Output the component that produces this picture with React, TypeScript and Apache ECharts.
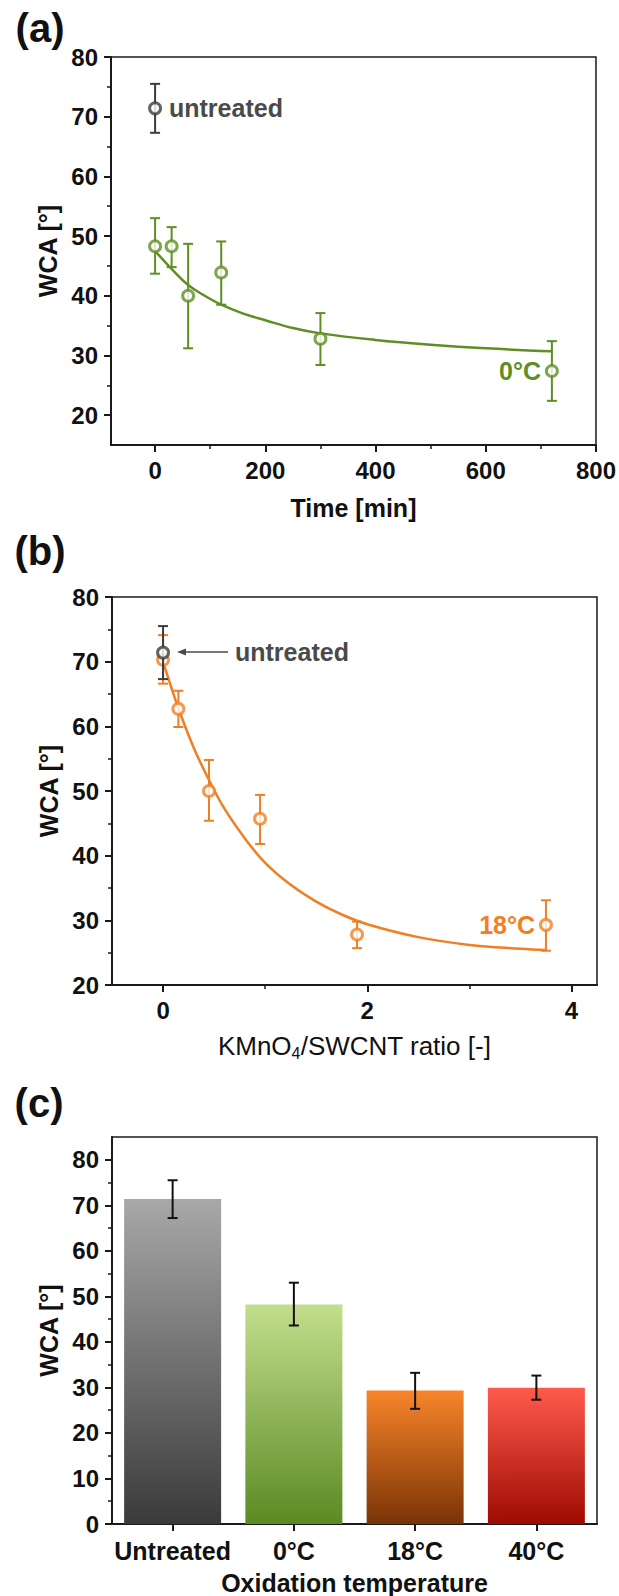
import React, { useEffect, useRef } from "react";
import * as echarts from "echarts";

// ---------- Panel (a): WCA vs time at 0°C ----------
const TIME_MIN = [0, 30, 60, 120, 300, 720];
const WCA_0C = [48.3, 48.3, 40.0, 43.9, 32.8, 27.4];
const WCA_0C_LOW = [43.7, 44.8, 31.2, 38.5, 28.4, 22.4];
const WCA_0C_HIGH = [53.0, 51.5, 48.7, 49.1, 37.1, 32.4];
const FIT_0C_X = [0, 30, 60, 90, 120, 160, 200, 250, 300, 400, 500, 600, 720];
const FIT_0C_Y = [47.5, 44.5, 41.8, 40.0, 38.5, 37.0, 35.9, 34.6, 33.7, 32.6, 31.8, 31.2, 30.7];
const UNTREATED_WCA = [71.4];
const UNTREATED_LOW = [67.3];
const UNTREATED_HIGH = [75.5];
const A_X_TICKS = [0, 200, 400, 600, 800];
const A_X_MINOR = [100, 300, 500, 700];
const A_Y_TICKS = [20, 30, 40, 50, 60, 70, 80];
const A_Y_MINOR = [25, 35, 45, 55, 65, 75];

// ---------- Panel (b): WCA vs KMnO4/SWCNT ratio at 18°C ----------
const RATIO = [0, 0.15, 0.45, 0.95, 1.9, 3.75];
const WCA_18C = [70.3, 62.7, 50.0, 45.7, 27.8, 29.3];
const WCA_18C_LOW = [66.6, 59.9, 45.4, 41.8, 25.7, 25.3];
const WCA_18C_HIGH = [74.1, 65.5, 54.8, 49.4, 29.8, 33.1];
const FIT_18C_X = [0, 0.15, 0.3, 0.45, 0.6, 0.8, 1.0, 1.25, 1.5, 1.75, 2.0, 2.5, 3.0, 3.5, 3.75];
const FIT_18C_Y = [70.0, 62.8, 56.7, 51.7, 47.3, 42.7, 38.9, 35.5, 32.9, 30.9, 29.4, 27.4, 26.2, 25.6, 25.4];
const B_X_TICKS = [0, 2, 4];
const B_X_MINOR = [1, 3];
const B_Y_TICKS = [20, 30, 40, 50, 60, 70, 80];
const B_Y_MINOR = [25, 35, 45, 55, 65, 75];

// ---------- Panel (c): WCA vs oxidation temperature ----------
const CATEGORIES = ["Untreated", "0°C", "18°C", "40°C"];
const BAR_WCA = [71.4, 48.2, 29.3, 29.9];
const BAR_LOW = [67.2, 43.6, 25.3, 27.3];
const BAR_HIGH = [75.5, 53.0, 33.2, 32.6];
const C_Y_TICKS = [0, 10, 20, 30, 40, 50, 60, 70, 80];
const C_Y_MINOR = [5, 15, 25, 35, 45, 55, 65, 75];

// ---------- styles ----------
const FONT = "'Liberation Sans', Arial, Helvetica, sans-serif";
const AXIS = "#1a1a1a";
const GREEN = "#5f8e23";
const ORANGE = "#f07f24";
const GREY = "#3c3c3c";
const TEXT_GREY = "#4a4a4a";
const BAR_TOP = ["#a8a8a8", "#c3de8c", "#f8852a", "#ff5a4c"];
const BAR_BOTTOM = ["#3a3a3a", "#5b8a23", "#7a3306", "#9e0b02"];

function errRender(color: string, cap: number) {
  return (params: any, api: any) => {
    const x = api.value(0);
    const lo = api.value(1);
    const hi = api.value(2);
    const p1 = api.coord([x, hi]);
    const p2 = api.coord([x, lo]);
    const st = { stroke: color, lineWidth: 2 };
    return {
      type: "group",
      children: [
        { type: "line", shape: { x1: p1[0], y1: p1[1], x2: p2[0], y2: p2[1] }, style: st },
        { type: "line", shape: { x1: p1[0] - cap, y1: p1[1], x2: p1[0] + cap, y2: p1[1] }, style: st },
        { type: "line", shape: { x1: p2[0] - cap, y1: p2[1], x2: p2[0] + cap, y2: p2[1] }, style: st },
      ],
    };
  };
}

const tickLabel = { fontFamily: FONT, fontWeight: "bold" as const, fontSize: 24, color: "#111" };
const nameStyle = { fontFamily: FONT, fontWeight: "bold" as const, fontSize: 25, color: "#111" };

function mainValueAxis(grid: number, min: number, max: number, ticks: number[], pos: string, extra: any = {}) {
  return {
    type: "value",
    gridIndex: grid,
    min,
    max,
    position: pos,
    offset: 0,
    axisLine: { show: true, onZero: false, lineStyle: { color: AXIS, width: 2 } },
    axisTick: { show: true, inside: false, length: 7, customValues: ticks, lineStyle: { color: AXIS, width: 2 } },
    axisLabel: { show: true, customValues: ticks, margin: 13, ...tickLabel },
    splitLine: { show: false },
    ...extra,
  };
}

function minorAxis(grid: number, min: number, max: number, ticks: number[], pos: string) {
  return {
    type: "value",
    gridIndex: grid,
    min,
    max,
    position: pos,
    offset: 0,
    axisLine: { show: false, onZero: false },
    axisTick: { show: true, inside: false, length: 4, customValues: ticks, lineStyle: { color: AXIS, width: 1.5 } },
    axisLabel: { show: false },
    splitLine: { show: false },
  };
}

export default function App() {
  const ref = useRef<HTMLDivElement>(null);

  useEffect(() => {
    if (!ref.current) return;
    const chart = echarts.init(ref.current, undefined, { renderer: "svg" });

    const gridStyle = { show: true, borderColor: AXIS, borderWidth: 1.5, backgroundColor: "transparent", containLabel: false };

    const option: any = {
      animation: false,
      backgroundColor: "#ffffff",
      grid: [
        { ...gridStyle, left: 111, top: 57, width: 486, height: 388 },
        { ...gridStyle, left: 112, top: 597, width: 485, height: 388 },
        { ...gridStyle, left: 112, top: 1137, width: 485, height: 389 },
      ],
      xAxis: [
        mainValueAxis(0, -80, 800, A_X_TICKS, "bottom", {
          name: "Time [min]",
          nameLocation: "middle",
          nameGap: 50,
          nameTextStyle: nameStyle,
        }),
        minorAxis(0, -80, 800, A_X_MINOR, "bottom"),
        mainValueAxis(1, -0.5, 4.25, B_X_TICKS, "bottom", {
          name: "{a|KMnO}{s|4}{a|/SWCNT ratio [-]}",
          nameLocation: "middle",
          nameGap: 46,
          nameTextStyle: {
            rich: {
              a: { fontFamily: FONT, fontSize: 26, color: "#111", lineHeight: 30 },
              s: { fontFamily: FONT, fontSize: 16, color: "#111", verticalAlign: "bottom" },
            },
          },
        }),
        minorAxis(1, -0.5, 4.25, B_X_MINOR, "bottom"),
        {
          type: "category",
          gridIndex: 2,
          data: CATEGORIES,
          position: "bottom",
          boundaryGap: true,
          axisLine: { show: true, lineStyle: { color: AXIS, width: 2 } },
          axisTick: { show: true, alignWithLabel: true, inside: false, length: 7, lineStyle: { color: AXIS, width: 2 } },
          axisLabel: { margin: 14, interval: 0, hideOverlap: false, ...tickLabel, fontSize: 25 },
          splitLine: { show: false },
          name: "Oxidation temperature",
          nameLocation: "middle",
          nameGap: 46,
          nameTextStyle: nameStyle,
        },
      ],
      yAxis: [
        mainValueAxis(0, 15, 80, A_Y_TICKS, "left", {
          name: "WCA [°]",
          nameLocation: "middle",
          nameGap: 45,
          nameTextStyle: nameStyle,
        }),
        minorAxis(0, 15, 80, A_Y_MINOR, "left"),
        mainValueAxis(1, 20, 80, B_Y_TICKS, "left", {
          name: "WCA [°]",
          nameLocation: "middle",
          nameGap: 45,
          nameTextStyle: nameStyle,
        }),
        minorAxis(1, 20, 80, B_Y_MINOR, "left"),
        mainValueAxis(2, 0, 85, C_Y_TICKS, "left", {
          name: "WCA [°]",
          nameLocation: "middle",
          nameGap: 45,
          nameTextStyle: nameStyle,
        }),
        minorAxis(2, 0, 85, C_Y_MINOR, "left"),
      ],
      series: [
        // ---- panel (a)
        {
          type: "custom",
          xAxisIndex: 0,
          yAxisIndex: 0,
          renderItem: errRender(GREEN, 5),
          encode: { x: 0, y: [1, 2] },
          data: TIME_MIN.map((x, i) => [x, WCA_0C_LOW[i], WCA_0C_HIGH[i]]),
          z: 2,
        },
        {
          type: "line",
          xAxisIndex: 0,
          yAxisIndex: 0,
          smooth: 0.4,
          symbol: "none",
          lineStyle: { color: GREEN, width: 2.5 },
          data: FIT_0C_X.map((x, i) => [x, FIT_0C_Y[i]]),
          z: 3,
        },
        {
          type: "scatter",
          xAxisIndex: 0,
          yAxisIndex: 0,
          symbol: "circle",
          symbolSize: 11,
          itemStyle: { color: "#ffffff", borderColor: GREEN, borderWidth: 3 },
          data: TIME_MIN.map((x, i) => [x, WCA_0C[i]]),
          z: 4,
        },
        {
          type: "custom",
          xAxisIndex: 0,
          yAxisIndex: 0,
          renderItem: errRender(GREY, 5),
          encode: { x: 0, y: [1, 2] },
          data: UNTREATED_WCA.map((v, i) => [0, UNTREATED_LOW[i], UNTREATED_HIGH[i]]),
          z: 5,
        },
        {
          type: "scatter",
          xAxisIndex: 0,
          yAxisIndex: 0,
          symbol: "circle",
          symbolSize: 11,
          itemStyle: { color: "#ffffff", borderColor: GREY, borderWidth: 3 },
          data: UNTREATED_WCA.map((v) => [0, v]),
          z: 6,
        },
        // ---- panel (b)
        {
          type: "custom",
          xAxisIndex: 2,
          yAxisIndex: 2,
          renderItem: errRender(ORANGE, 5),
          encode: { x: 0, y: [1, 2] },
          data: RATIO.map((x, i) => [x, WCA_18C_LOW[i], WCA_18C_HIGH[i]]),
          z: 2,
        },
        {
          type: "line",
          xAxisIndex: 2,
          yAxisIndex: 2,
          smooth: 0.4,
          symbol: "none",
          lineStyle: { color: ORANGE, width: 2.5 },
          data: FIT_18C_X.map((x, i) => [x, FIT_18C_Y[i]]),
          z: 3,
        },
        {
          type: "scatter",
          xAxisIndex: 2,
          yAxisIndex: 2,
          symbol: "circle",
          symbolSize: 11,
          itemStyle: { color: "#ffffff", borderColor: ORANGE, borderWidth: 3 },
          data: RATIO.map((x, i) => [x, WCA_18C[i]]),
          z: 4,
        },
        {
          type: "custom",
          xAxisIndex: 2,
          yAxisIndex: 2,
          renderItem: errRender(GREY, 5),
          encode: { x: 0, y: [1, 2] },
          data: UNTREATED_WCA.map((v, i) => [0, UNTREATED_LOW[i], UNTREATED_HIGH[i]]),
          z: 5,
        },
        {
          type: "scatter",
          xAxisIndex: 2,
          yAxisIndex: 2,
          symbol: "circle",
          symbolSize: 11,
          itemStyle: { color: "#ffffff", borderColor: GREY, borderWidth: 3 },
          data: UNTREATED_WCA.map((v) => [0, v]),
          z: 6,
        },
        // ---- panel (c)
        {
          type: "bar",
          xAxisIndex: 4,
          yAxisIndex: 4,
          barWidth: "80%",
          data: BAR_WCA.map((v, i) => ({
            value: v,
            itemStyle: {
              color: new echarts.graphic.LinearGradient(0, 0, 0, 1, [
                { offset: 0, color: BAR_TOP[i] },
                { offset: 1, color: BAR_BOTTOM[i] },
              ]),
            },
          })),
          z: 2,
        },
        {
          type: "custom",
          xAxisIndex: 4,
          yAxisIndex: 4,
          renderItem: errRender("#111111", 5),
          encode: { x: 0, y: [1, 2] },
          data: CATEGORIES.map((c, i) => [i, BAR_LOW[i], BAR_HIGH[i]]),
          z: 5,
        },
      ],
      graphic: [
        { type: "text", x: 40, y: 28, style: { text: "(a)", font: `bold 40px ${FONT}`, fill: "#111", align: "center", verticalAlign: "middle" } },
        { type: "text", x: 40, y: 551, style: { text: "(b)", font: `bold 40px ${FONT}`, fill: "#111", align: "center", verticalAlign: "middle" } },
        { type: "text", x: 39, y: 1103, style: { text: "(c)", font: `bold 40px ${FONT}`, fill: "#111", align: "center", verticalAlign: "middle" } },
        { type: "text", x: 169, y: 108, style: { text: "untreated", font: `bold 25px ${FONT}`, fill: TEXT_GREY, align: "left", verticalAlign: "middle" } },
        { type: "text", x: 541, y: 371, style: { text: "0°C", font: `bold 25px ${FONT}`, fill: GREEN, align: "right", verticalAlign: "middle" } },
        { type: "text", x: 235, y: 652, style: { text: "untreated", font: `bold 25px ${FONT}`, fill: TEXT_GREY, align: "left", verticalAlign: "middle" } },
        { type: "line", shape: { x1: 228, y1: 652, x2: 184, y2: 652 }, style: { stroke: TEXT_GREY, lineWidth: 1.5 } },
        { type: "polygon", shape: { points: [[177, 652], [186, 648.5], [186, 655.5]] }, style: { fill: TEXT_GREY } },
        { type: "text", x: 535, y: 925, style: { text: "18°C", font: `bold 25px ${FONT}`, fill: ORANGE, align: "right", verticalAlign: "middle" } },
      ],
    };

    chart.setOption(option);
    return () => chart.dispose();
  }, []);

  return (
    <div
      ref={ref}
      style={{ position: "absolute", left: 0, top: 0, width: 619, height: 1596, background: "#fff" }}
    />
  );
}
